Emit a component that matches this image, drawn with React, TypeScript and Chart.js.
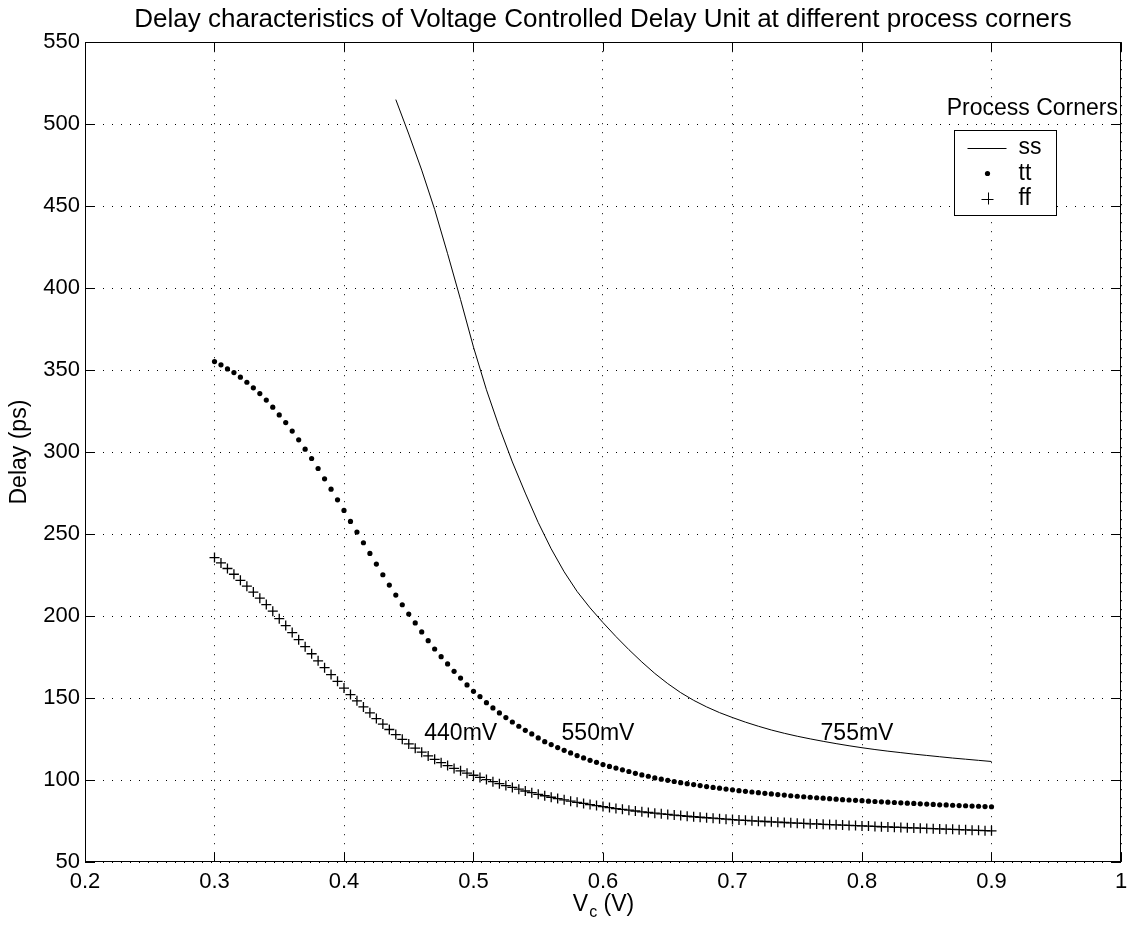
import React, { useEffect, useRef } from "react";
import { Chart, registerables } from "chart.js";

Chart.register(...registerables);

// ---------------- data ----------------
const chartTitle = "Delay characteristics of Voltage Controlled Delay Unit at different process corners";
const yAxisTitle = "Delay (ps)";
const xAxisMain = "V";
const xAxisSub = "c";
const xAxisUnit = " (V)";

// control-voltage sweep used for the tt and ff corners (V)
const vcSweep = [
  0.300, 0.305, 0.310, 0.315, 0.320, 0.325, 0.330, 0.335, 0.340, 0.345,
  0.350, 0.355, 0.360, 0.365, 0.370, 0.375, 0.380, 0.385, 0.390, 0.395,
  0.400, 0.405, 0.410, 0.415, 0.420, 0.425, 0.430, 0.435, 0.440, 0.445,
  0.450, 0.455, 0.460, 0.465, 0.470, 0.475, 0.480, 0.485, 0.490, 0.495,
  0.500, 0.505, 0.510, 0.515, 0.520, 0.525, 0.530, 0.535, 0.540, 0.545,
  0.550, 0.555, 0.560, 0.565, 0.570, 0.575, 0.580, 0.585, 0.590, 0.595,
  0.600, 0.605, 0.610, 0.615, 0.620, 0.625, 0.630, 0.635, 0.640, 0.645,
  0.650, 0.655, 0.660, 0.665, 0.670, 0.675, 0.680, 0.685, 0.690, 0.695,
  0.700, 0.705, 0.710, 0.715, 0.720, 0.725, 0.730, 0.735, 0.740, 0.745,
  0.750, 0.755, 0.760, 0.765, 0.770, 0.775, 0.780, 0.785, 0.790, 0.795,
  0.800, 0.805, 0.810, 0.815, 0.820, 0.825, 0.830, 0.835, 0.840, 0.845,
  0.850, 0.855, 0.860, 0.865, 0.870, 0.875, 0.880, 0.885, 0.890, 0.895,
  0.900,
];

// typical-typical corner delay (ps)
const ttDelay = [
  355.2, 353.2, 350.7, 348.5, 345.7, 342.6, 339.2, 335.7, 331.7, 327.4,
  322.7, 318.0, 312.8, 307.5, 301.8, 296.1, 290.0, 283.7, 277.4, 270.9,
  264.4, 257.7, 251.2, 244.7, 238.2, 231.7, 225.2, 218.9, 212.8, 206.9,
  201.2, 195.8, 190.3, 185.0, 179.9, 175.2, 170.8, 166.3, 162.2, 158.0,
  154.1, 150.9, 147.2, 144.0, 140.9, 138.1, 135.4, 132.8, 130.3, 128.1,
  125.7, 123.4, 121.6, 119.8, 118.1, 116.5, 114.9, 113.5, 112.0, 110.8,
  109.4, 108.3, 107.3, 106.2, 105.2, 104.1, 103.1, 102.3, 101.3, 100.5,
  99.8, 99.1, 98.4, 97.8, 97.2, 96.6, 96.0, 95.5, 95.0, 94.5,
  94.0, 93.5, 93.1, 92.7, 92.3, 91.9, 91.5, 91.1, 90.8, 90.4,
  90.1, 89.8, 89.5, 89.2, 88.9, 88.6, 88.3, 88.0, 87.8, 87.6,
  87.4, 87.1, 86.9, 86.7, 86.5, 86.3, 86.1, 85.9, 85.7, 85.5,
  85.3, 85.1, 84.9, 84.8, 84.6, 84.4, 84.3, 84.1, 84.0, 83.8,
  83.7,
];

// fast-fast corner delay (ps)
const ffDelay = [
  235.7, 232.4, 229.0, 225.5, 221.8, 218.2, 214.6, 210.9, 207.0, 203.0,
  198.4, 194.2, 189.9, 185.6, 181.3, 177.0, 172.7, 168.5, 164.3, 160.2,
  156.1, 152.1, 148.3, 144.6, 141.0, 137.5, 134.1, 130.8, 127.7, 124.8,
  122.0, 119.4, 117.0, 114.7, 112.6, 110.6, 108.8, 107.1, 105.6, 104.2,
  102.9, 101.6, 100.3, 99.0, 97.8, 96.6, 95.5, 94.4, 93.3, 92.3,
  91.3, 90.4, 89.5, 88.7, 87.9, 87.1, 86.4, 85.7, 85.0, 84.4,
  83.8, 83.2, 82.6, 82.1, 81.6, 81.1, 80.6, 80.2, 79.8, 79.4,
  79.0, 78.6, 78.3, 77.9, 77.6, 77.3, 77.0, 76.7, 76.4, 76.1,
  75.9, 75.6, 75.4, 75.1, 74.9, 74.7, 74.5, 74.3, 74.1, 73.9,
  73.7, 73.5, 73.3, 73.2, 73.0, 72.8, 72.7, 72.5, 72.3, 72.2,
  72.0, 71.9, 71.7, 71.5, 71.4, 71.2, 71.1, 70.9, 70.8, 70.6,
  70.5, 70.3, 70.2, 70.0, 69.9, 69.7, 69.6, 69.4, 69.3, 69.1,
  69.0,
];

// slow-slow corner (V, ps)
const vcSS = [
  0.44, 0.45, 0.46, 0.47, 0.48, 0.49, 0.50, 0.51, 0.52, 0.53,
  0.54, 0.55, 0.56, 0.57, 0.58, 0.59, 0.60, 0.61, 0.62, 0.63,
  0.64, 0.65, 0.66, 0.67, 0.68, 0.69, 0.70, 0.71, 0.72, 0.73,
  0.74, 0.75, 0.76, 0.77, 0.78, 0.79, 0.80, 0.81, 0.82, 0.83,
  0.84, 0.85, 0.86, 0.87, 0.88, 0.89, 0.90,
];
const ssDelay = [
  515, 494, 472, 448, 421, 393, 364, 338, 315, 294,
  275, 257, 241, 227, 215, 205, 196, 187.5, 179.5, 172,
  165, 158.8, 153.3, 148.6, 144.6, 141.1, 138.1, 135.3, 132.8, 130.5,
  128.5, 126.7, 125.1, 123.6, 122.2, 120.9, 119.7, 118.6, 117.6, 116.7,
  115.8, 115.0, 114.2, 113.4, 112.7, 112.0, 111.3,
];

const xTicks = [0.2, 0.3, 0.4, 0.5, 0.6, 0.7, 0.8, 0.9, 1.0];
const yTicks = [50, 100, 150, 200, 250, 300, 350, 400, 450, 500, 550];

const legendTitle = "Process Corners";
const legendLabels = ["ss", "tt", "ff"];

const noteLabels = ["440mV", "550mV", "755mV"];
const noteX = [0.462, 0.568, 0.768];
const noteY = [128.0, 128.0, 128.0];

// ---------------- styling ----------------
const FONT = "'Liberation Sans', Arial, Helvetica, sans-serif";
const FS = 22;
const FT = 23;

const framePlugin = {
  id: "matlabFrame",
  afterDatasetsDraw(chart: any) {
    const { ctx, chartArea: a, scales } = chart;
    const x = scales.x;
    const y = scales.y;
    ctx.save();
    ctx.strokeStyle = "#000";
    ctx.lineWidth = 1;
    const L = Math.round(a.left) + 0.5;
    const R = Math.round(a.right) - 0.5;
    const T = Math.round(a.top) + 0.5;
    const B = Math.round(a.bottom) - 0.5;
    ctx.strokeRect(L, T, R - L, B - T);
    const tl = 9;
    ctx.beginPath();
    xTicks.forEach((v) => {
      const px = Math.round(x.getPixelForValue(v)) + 0.5;
      ctx.moveTo(px, B);
      ctx.lineTo(px, B - tl);
      ctx.moveTo(px, T);
      ctx.lineTo(px, T + tl);
    });
    yTicks.forEach((v) => {
      const py = Math.round(y.getPixelForValue(v)) + 0.5;
      ctx.moveTo(L, py);
      ctx.lineTo(L + tl, py);
      ctx.moveTo(R, py);
      ctx.lineTo(R - tl, py);
    });
    ctx.stroke();
    ctx.restore();
  },
  afterDraw(chart: any) {
    const { ctx, chartArea: a, scales } = chart;
    const x = scales.x;
    const y = scales.y;
    ctx.save();
    ctx.fillStyle = "#000";
    ctx.strokeStyle = "#000";
    ctx.font = `${FT}px ${FONT}`;

    // annotations
    ctx.textAlign = "left";
    ctx.textBaseline = "middle";
    noteLabels.forEach((t, i) => {
      ctx.fillText(t, x.getPixelForValue(noteX[i]), y.getPixelForValue(noteY[i]));
    });

    // legend title
    ctx.textAlign = "right";
    ctx.fillText(legendTitle, a.right - 3, a.top + 66);

    // legend box
    const lx = Math.round(a.right - 167) + 0.5;
    const ly = Math.round(a.top + 88) + 0.5;
    const lw = 102;
    const lh = 85;
    ctx.fillStyle = "#fff";
    ctx.fillRect(lx, ly, lw, lh);
    ctx.lineWidth = 1;
    ctx.strokeRect(lx, ly, lw, lh);
    ctx.fillStyle = "#000";
    const rows = [ly + 17, ly + 43, ly + 68];
    const cx = lx + 33;
    // ss line
    ctx.beginPath();
    ctx.moveTo(lx + 13, Math.round(rows[0]) + 0.5);
    ctx.lineTo(lx + 52, Math.round(rows[0]) + 0.5);
    ctx.stroke();
    // tt dot
    ctx.beginPath();
    ctx.arc(cx, rows[1], 2.6, 0, Math.PI * 2);
    ctx.fill();
    // ff plus
    ctx.beginPath();
    ctx.moveTo(cx - 6, Math.round(rows[2]) + 0.5);
    ctx.lineTo(cx + 6, Math.round(rows[2]) + 0.5);
    ctx.moveTo(Math.round(cx) + 0.5, rows[2] - 6);
    ctx.lineTo(Math.round(cx) + 0.5, rows[2] + 6);
    ctx.stroke();
    ctx.textAlign = "left";
    legendLabels.forEach((t, i) => ctx.fillText(t, lx + 64, rows[i]));

    // x axis title with subscript
    const subSize = 16;
    const cxm = (a.left + a.right) / 2;
    const base = a.bottom + 49;
    ctx.font = `${FT}px ${FONT}`;
    const wV = ctx.measureText(xAxisMain).width;
    ctx.font = `${subSize}px ${FONT}`;
    const wC = ctx.measureText(xAxisSub).width;
    ctx.font = `${FT}px ${FONT}`;
    const wU = ctx.measureText(xAxisUnit).width;
    const total = wV + wC + wU;
    let px = cxm - total / 2;
    ctx.textBaseline = "alphabetic";
    ctx.fillText(xAxisMain, px, base);
    px += wV + 1;
    ctx.font = `${subSize}px ${FONT}`;
    ctx.fillText(xAxisSub, px, base + 6);
    px += wC;
    ctx.font = `${FT}px ${FONT}`;
    ctx.fillText(xAxisUnit, px, base);
    ctx.restore();
  },
};

export default function App() {
  const ref = useRef<HTMLCanvasElement | null>(null);

  useEffect(() => {
    if (!ref.current) return;
    Chart.defaults.font.family = FONT;
    Chart.defaults.color = "#000";
    const chart = new Chart(ref.current, {
      type: "scatter",
      data: {
        datasets: [
          {
            label: legendLabels[0],
            data: vcSS.map((v, i) => ({ x: v, y: ssDelay[i] })),
            showLine: true,
            borderColor: "#000",
            borderWidth: 1,
            pointRadius: 0,
            tension: 0,
          },
          {
            label: legendLabels[1],
            data: vcSweep.map((v, i) => ({ x: v, y: ttDelay[i] })),
            showLine: false,
            pointStyle: "circle",
            pointRadius: 2.6,
            backgroundColor: "#000",
            borderColor: "#000",
            borderWidth: 0,
          },
          {
            label: legendLabels[2],
            data: vcSweep.map((v, i) => ({ x: v, y: ffDelay[i] })),
            showLine: false,
            pointStyle: "cross",
            pointRadius: 5,
            borderColor: "#000",
            borderWidth: 1.3,
          },
        ],
      },
      options: {
        responsive: false,
        animation: false,
        devicePixelRatio: 1,
        layout: { padding: { top: 0, right: 8, bottom: 0, left: 0 } },
        plugins: {
          legend: { display: false },
          tooltip: { enabled: false },
          title: {
            display: true,
            fullSize: false,
            text: chartTitle,
            color: "#000",
            font: { size: 26, weight: "normal", family: FONT, lineHeight: 1.2 },
            padding: { top: 4, bottom: 7 },
          },
        },
        scales: {
          x: {
            type: "linear",
            min: 0.2,
            max: 1.0,
            afterFit: (s: any) => {
              s.height = 65;
              s.paddingLeft = 0;
              s.paddingRight = 0;
            },
            afterBuildTicks: (s: any) => {
              s.ticks = xTicks.map((v) => ({ value: v }));
            },
            ticks: {
              font: { size: FS, family: FONT },
              color: "#000",
              padding: 7,
              maxRotation: 0,
              autoSkip: false,
              callback: (v: any) => String(Number(Number(v).toFixed(1))),
            },
            grid: { color: "#000", lineWidth: 1, drawTicks: false },
            border: { display: false, dash: [1, 8] },
          },
          y: {
            type: "linear",
            min: 50,
            max: 550,
            afterFit: (s: any) => {
              s.width = 85;
              s.paddingTop = 0;
              s.paddingBottom = 0;
            },
            afterBuildTicks: (s: any) => {
              s.ticks = yTicks.map((v) => ({ value: v }));
            },
            title: {
              display: true,
              text: yAxisTitle,
              font: { size: FT, family: FONT },
              color: "#000",
              padding: { top: 6, bottom: 0 },
            },
            ticks: {
              font: { size: FS, family: FONT },
              color: "#000",
              padding: 5,
              autoSkip: false,
            },
            grid: { color: "#000", lineWidth: 1, drawTicks: false },
            border: { display: false, dash: [1, 8] },
          },
        },
      },
      plugins: [framePlugin],
    });
    return () => chart.destroy();
  }, []);

  return (
    <div style={{ position: "absolute", left: 0, top: 0, width: 1129, height: 927, background: "#fff" }}>
      <canvas ref={ref} width={1129} height={927} style={{ width: 1129, height: 927, display: "block" }} />
    </div>
  );
}
